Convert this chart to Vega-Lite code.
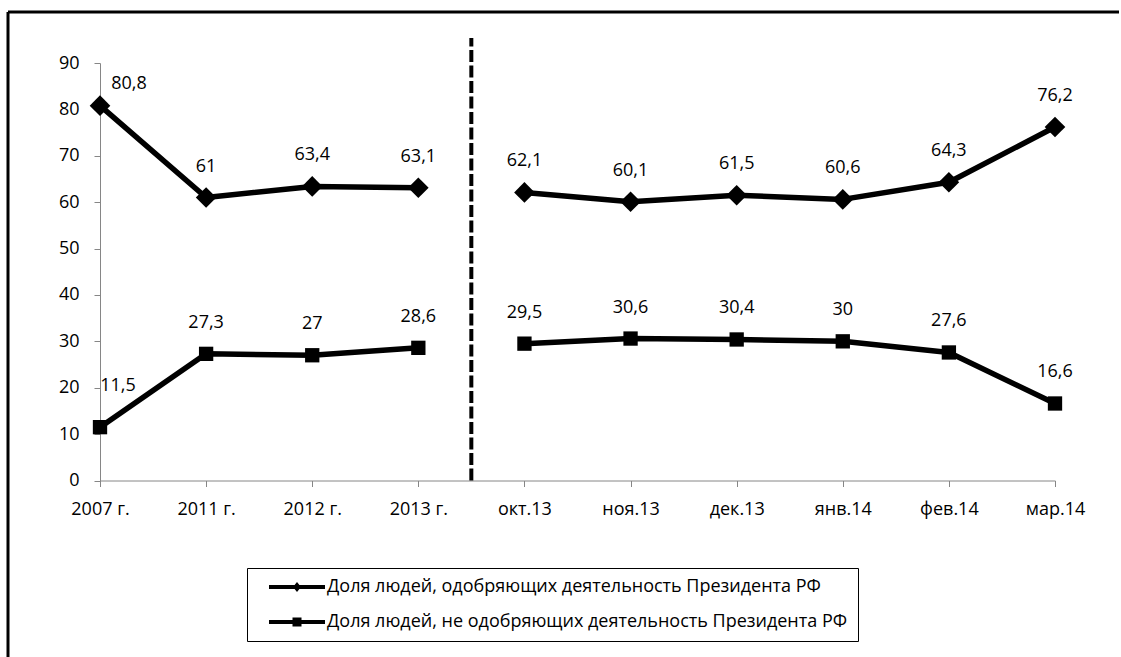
{
  "$schema": "https://vega.github.io/schema/vega-lite/v6.json",
  "width": 1113,
  "height": 645,
  "autosize": {"type": "none"},
  "padding": {"left": 8, "top": 12, "right": 0, "bottom": 0},
  "background": "white",
  "config": {
    "font": "Open Sans",
    "locale": {"number": {"decimal": ",", "thousands": " ", "grouping": [3], "currency": ["", " ₽"]}},
    "view": {"stroke": "black", "strokeWidth": 3, "strokeDash": [1111, 1760, 645, 0]},
    "axis": {
      "labelFont": "Open Sans",
      "labelFontSize": 18,
      "labelColor": "black",
      "domainColor": "#868686",
      "domainWidth": 1,
      "tickColor": "#868686",
      "tickSize": 6,
      "grid": false,
      "title": null
    }
  },
  "data": {
    "values": [
      {"p": "2007 г.", "g": "годы", "s": "Доля людей, одобряющих деятельность Президента РФ", "v": 80.8},
      {"p": "2011 г.", "g": "годы", "s": "Доля людей, одобряющих деятельность Президента РФ", "v": 61},
      {"p": "2012 г.", "g": "годы", "s": "Доля людей, одобряющих деятельность Президента РФ", "v": 63.4},
      {"p": "2013 г.", "g": "годы", "s": "Доля людей, одобряющих деятельность Президента РФ", "v": 63.1},
      {"p": "окт.13", "g": "месяцы", "s": "Доля людей, одобряющих деятельность Президента РФ", "v": 62.1},
      {"p": "ноя.13", "g": "месяцы", "s": "Доля людей, одобряющих деятельность Президента РФ", "v": 60.1},
      {"p": "дек.13", "g": "месяцы", "s": "Доля людей, одобряющих деятельность Президента РФ", "v": 61.5},
      {"p": "янв.14", "g": "месяцы", "s": "Доля людей, одобряющих деятельность Президента РФ", "v": 60.6},
      {"p": "фев.14", "g": "месяцы", "s": "Доля людей, одобряющих деятельность Президента РФ", "v": 64.3},
      {"p": "мар.14", "g": "месяцы", "s": "Доля людей, одобряющих деятельность Президента РФ", "v": 76.2},
      {"p": "2007 г.", "g": "годы", "s": "Доля людей, не одобряющих деятельность Президента РФ", "v": 11.5},
      {"p": "2011 г.", "g": "годы", "s": "Доля людей, не одобряющих деятельность Президента РФ", "v": 27.3},
      {"p": "2012 г.", "g": "годы", "s": "Доля людей, не одобряющих деятельность Президента РФ", "v": 27},
      {"p": "2013 г.", "g": "годы", "s": "Доля людей, не одобряющих деятельность Президента РФ", "v": 28.6},
      {"p": "окт.13", "g": "месяцы", "s": "Доля людей, не одобряющих деятельность Президента РФ", "v": 29.5},
      {"p": "ноя.13", "g": "месяцы", "s": "Доля людей, не одобряющих деятельность Президента РФ", "v": 30.6},
      {"p": "дек.13", "g": "месяцы", "s": "Доля людей, не одобряющих деятельность Президента РФ", "v": 30.4},
      {"p": "янв.14", "g": "месяцы", "s": "Доля людей, не одобряющих деятельность Президента РФ", "v": 30},
      {"p": "фев.14", "g": "месяцы", "s": "Доля людей, не одобряющих деятельность Президента РФ", "v": 27.6},
      {"p": "мар.14", "g": "месяцы", "s": "Доля людей, не одобряющих деятельность Президента РФ", "v": 16.6}
    ]
  },
  "encoding": {
    "x": {
      "field": "p",
      "type": "ordinal",
      "scale": {
        "type": "point",
        "domain": ["2007 г.", "2011 г.", "2012 г.", "2013 г.", "окт.13", "ноя.13", "дек.13", "янв.14", "фев.14", "мар.14"],
        "range": [92, 1047],
        "padding": 0
      },
      "axis": {"labelAngle": 0, "offset": -176.5, "labelPadding": 14, "title": null}
    },
    "y": {
      "field": "v",
      "type": "quantitative",
      "scale": {"domain": [0, 90], "range": [468.5, 51], "nice": false, "zero": false},
      "axis": {"values": [0, 10, 20, 30, 40, 50, 60, 70, 80, 90], "offset": -92, "labelPadding": 15, "title": null}
    }
  },
  "layer": [
    {
      "transform": [{"filter": {"and": [{"field": "p", "equal": "2013 г."}, {"field": "s", "equal": "Доля людей, одобряющих деятельность Президента РФ"}]}}],
      "mark": {"type": "rule", "color": "black", "strokeWidth": 4, "strokeDash": [12, 3.5], "xOffset": 53},
      "encoding": {
        "y": {"datum": 0},
        "y2": {"datum": 95.4}
      }
    },
    {
      "mark": {"type": "line", "color": "black", "strokeWidth": 5.5, "strokeJoin": "round"},
      "encoding": {
        "detail": [{"field": "s"}, {"field": "g"}]
      }
    },
    {
      "mark": {"type": "point", "filled": true, "color": "black", "opacity": 0, "size": 10},
      "encoding": {
        "shape": {
          "field": "s",
          "type": "nominal",
          "scale": {
            "domain": ["Доля людей, одобряющих деятельность Президента РФ", "Доля людей, не одобряющих деятельность Президента РФ"],
            "range": ["M-5.6,-0.4H5.6V0.4H-5.6Z M0,-1L0.8,0L0,1L-0.8,0Z", "M-5.6,-0.4H5.6V0.4H-5.6Z M-0.9,-0.9H0.9V0.9H-0.9Z"]
          },
          "legend": {
            "title": null,
            "orient": "none",
            "legendX": 239,
            "legendY": 556,
            "padding": 10,
            "strokeColor": "black",
            "fillColor": "white",
            "labelFont": "Open Sans",
            "labelFontSize": 18,
            "labelColor": "black",
            "labelLimit": 900,
            "symbolSize": 100,
            "symbolOffset": 31,
            "labelOffset": 21,
            "rowPadding": 17,
            "symbolStrokeWidth": 0,
            "symbolFillColor": "black",
            "symbolOpacity": 1,
            "encode": {
              "legend": {"update": {"strokeWidth": {"value": 2}}}
            }
          }
        }
      }
    },
    {
      "transform": [{"filter": {"field": "s", "equal": "Доля людей, одобряющих деятельность Президента РФ"}}],
      "mark": {"type": "point", "shape": "diamond", "filled": true, "color": "black", "opacity": 1, "size": 425}
    },
    {
      "transform": [{"filter": {"field": "s", "equal": "Доля людей, не одобряющих деятельность Президента РФ"}}],
      "mark": {"type": "point", "shape": "square", "filled": true, "color": "black", "opacity": 1, "size": 205}
    },
    {
      "transform": [{"filter": "datum.p != '2007 г.'"}],
      "mark": {"type": "text", "fontSize": 18, "color": "black", "baseline": "middle", "dy": -31},
      "encoding": {"text": {"field": "v", "type": "quantitative", "format": "~g"}}
    },
    {
      "transform": [{"filter": {"and": [{"field": "p", "equal": "2007 г."}, {"field": "s", "equal": "Доля людей, одобряющих деятельность Президента РФ"}]}}],
      "mark": {"type": "text", "fontSize": 18, "color": "black", "baseline": "middle", "dx": 29, "dy": -22},
      "encoding": {"text": {"field": "v", "type": "quantitative", "format": "~g"}}
    },
    {
      "transform": [{"filter": {"and": [{"field": "p", "equal": "2007 г."}, {"field": "s", "equal": "Доля людей, не одобряющих деятельность Президента РФ"}]}}],
      "mark": {"type": "text", "fontSize": 18, "color": "black", "baseline": "middle", "dx": 18, "dy": -41},
      "encoding": {"text": {"field": "v", "type": "quantitative", "format": "~g"}}
    }
  ]
}
